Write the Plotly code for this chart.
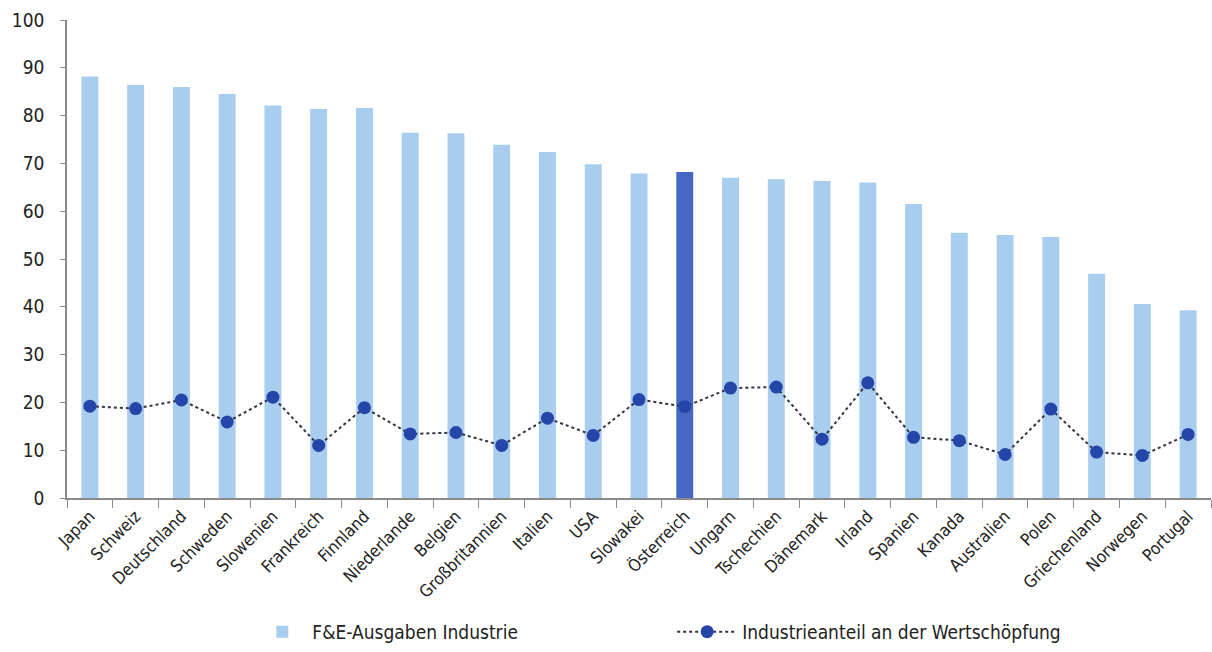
import plotly.graph_objects as go

# Countries, sorted by business share of R&D spending
laender = [
    "Japan", "Schweiz", "Deutschland", "Schweden", "Slowenien", "Frankreich",
    "Finnland", "Niederlande", "Belgien", "Großbritannien", "Italien", "USA",
    "Slowakei", "Österreich", "Ungarn", "Tschechien", "Dänemark", "Irland",
    "Spanien", "Kanada", "Australien", "Polen", "Griechenland", "Norwegen",
    "Portugal",
]

# F&E-Ausgaben Industrie (%)
fue_industrie = [
    88.2, 86.4, 86.0, 84.5, 82.1, 81.4, 81.6, 76.4, 76.3, 73.9, 72.4, 69.8,
    67.9, 68.2, 67.0, 66.7, 66.3, 66.0, 61.5, 55.5, 55.0, 54.6, 46.9, 40.6,
    39.3,
]

# Industrieanteil an der Wertschöpfung (%)
industrieanteil = [
    19.2, 18.7, 20.5, 15.9, 21.1, 11.0, 18.9, 13.4, 13.7, 11.0, 16.7, 13.1,
    20.6, 19.1, 23.0, 23.2, 12.3, 24.1, 12.7, 12.0, 9.1, 18.6, 9.6, 8.9,
    13.3,
]

y_ticks = [0, 10, 20, 30, 40, 50, 60, 70, 80, 90, 100]

hervorgehoben = "Österreich"
hell = "#a9cdef"
dunkel = "#4668c2"
bar_farben = [dunkel if land == hervorgehoben else hell for land in laender]

schrift = "DejaVu Sans Condensed, Liberation Sans Narrow, Arial Narrow, sans-serif"

fig = go.Figure()

fig.add_trace(go.Bar(
    x=laender,
    y=fue_industrie,
    name="F&E-Ausgaben Industrie",
    marker=dict(color=bar_farben, line=dict(width=0)),
    showlegend=True,
    legend="legend",
))

fig.add_trace(go.Scatter(
    x=laender,
    y=industrieanteil,
    name="Industrieanteil an der Wertschöpfung",
    mode="lines+markers",
    line=dict(color="#333344", width=2, dash="dot"),
    marker=dict(color="#2346a8", size=13),
    showlegend=True,
    legend="legend2",
))

fig.update_layout(
    width=1212,
    height=652,
    margin=dict(l=67, r=1, t=20, b=147),
    paper_bgcolor="white",
    plot_bgcolor="white",
    showlegend=True,
    bargap=0.63,
    font=dict(family=schrift, size=17, color="#222222"),
    xaxis=dict(
        range=[-0.5, len(laender) - 0.5],
        showline=True,
        linecolor="#8a8a8a",
        linewidth=1.5,
        ticks="outside",
        tickson="boundaries",
        ticklen=8,
        tickcolor="#8a8a8a",
        tickangle=-45,
        tickfont=dict(size=17),
        showgrid=False,
        zeroline=False,
    ),
    yaxis=dict(
        range=[0, 100],
        tickvals=y_ticks,
        showline=True,
        linecolor="#8a8a8a",
        linewidth=1.5,
        ticks="outside",
        ticklen=5,
        tickcolor="#8a8a8a",
        tickfont=dict(size=19),
        ticklabelstandoff=12,
        showgrid=False,
        zeroline=False,
    ),
    legend=dict(
        x=0.162, y=-0.28, xanchor="left", yanchor="middle",
        orientation="h", font=dict(size=19), itemwidth=50,
        bgcolor="rgba(0,0,0,0)",
    ),
    legend2=dict(
        x=0.529, y=-0.28, xanchor="left", yanchor="middle",
        orientation="h", font=dict(size=19), itemwidth=60,
        bgcolor="rgba(0,0,0,0)",
    ),
)

fig.write_html("out.html")
